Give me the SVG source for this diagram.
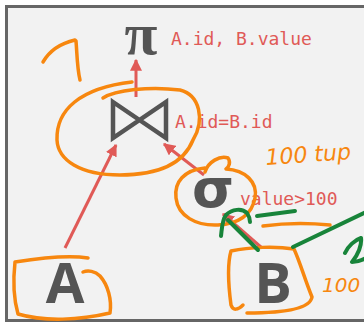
<svg xmlns="http://www.w3.org/2000/svg" width="364" height="323" viewBox="0 0 364 323">
<defs>
<style>
.sym{fill:#555;}
.lbl{font-family:"DejaVu Sans Mono",monospace;font-size:18px;fill:#e05a57;}
.arr{stroke:#e05a57;stroke-width:3;fill:none;}
.ink-o{stroke:#f7870f;stroke-width:3.5;fill:none;stroke-linecap:round;stroke-linejoin:round;}
.ink-g{stroke:#18843a;stroke-width:4;fill:none;stroke-linecap:round;stroke-linejoin:round;}
.hand{font-family:"DejaVu Sans",sans-serif;font-style:italic;fill:#f7870f;}
</style>
<marker id="ah" viewBox="0 0 10 10" refX="9" refY="5" markerWidth="4" markerHeight="4" orient="auto" markerUnits="strokeWidth">
<path d="M0,0 L10,5 L0,10 Z" fill="#e05a57"/>
</marker>
</defs>
<rect x="0" y="0" width="364" height="323" fill="#ffffff"/>
<rect x="6.5" y="6.5" width="370" height="314" fill="#f2f2f2" stroke="#666" stroke-width="3"/>

<g id="connectors">
<line class="arr" x1="136" y1="97" x2="136" y2="60" marker-end="url(#ah)"/>
<line class="arr" x1="65" y1="248" x2="116" y2="145" marker-end="url(#ah)"/>
<line class="arr" x1="204" y1="175" x2="164" y2="144" marker-end="url(#ah)"/>
<line class="arr" x1="262" y1="248" x2="223" y2="214" marker-end="url(#ah)"/>
</g>

<g id="project">
<text x="141" y="54" text-anchor="middle" class="sym" font-family="Liberation Serif,serif" font-weight="bold" font-size="60">π</text>
<text x="171" y="45" class="lbl">A.id, B.value</text>
</g>
<g id="join">
<path d="M113,102 L166,138 L166,102 L113,138 Z" fill="none" stroke="#555" stroke-width="4.5" stroke-linejoin="miter"/>
<text x="175" y="128" class="lbl">A.id=B.id</text>
</g>
<g id="select">
<text x="213" y="207" text-anchor="middle" class="sym" font-family="DejaVu Sans,sans-serif" font-weight="bold" font-size="54">σ</text>
<text x="240" y="205" class="lbl">value&gt;100</text>
</g>
<g id="A">
<text x="65" y="303" text-anchor="middle" class="sym" font-family="Open Sans,sans-serif" font-weight="bold" font-size="56">A</text>
</g>
<g id="B">
<text x="273" y="303" text-anchor="middle" class="sym" font-family="Open Sans,sans-serif" font-weight="bold" font-size="56">B</text>
</g>

<g id="annotations">
<path class="ink-o" d="M43,62 C50,50 62,43 75,40 L76,41 C77,52 77,68 80,80"/>
<path class="ink-o" d="M103,98 C115,90 150,86 180,90 C200,95 205,120 193,140 C185,160 165,175 120,175 C80,175 58,160 57,140 C56,110 80,88 132,82"/>
<path class="ink-o" d="M205,172 C208,162 220,155 228,158 C231,162 229,167 226,169 C245,170 258,182 255,198 C252,215 238,224 218,225 C196,226 178,216 176,198 C174,182 184,170 205,168"/>
<path class="ink-o" d="M88,258 C70,255 40,258 15,262 C13,280 14,300 18,314 C45,322 80,320 110,313 C112,300 108,285 100,276 C95,271 88,270 83,272"/>
<path class="ink-o" d="M243,305 C238,310 233,311 231,305 C229,290 227,265 231,251 C250,247 275,246 294,249 C300,262 305,280 312,297 C310,310 280,313 247,313"/>
<path class="ink-o" d="M263,226 C285,223 310,223 330,225"/>
<text x="266" y="165" class="hand" font-size="22" transform="rotate(-4 266 165)">100 tup</text>
<text x="322" y="292" class="hand" font-size="20">100</text>
<path class="ink-g" d="M258,250 L228,220"/>
<path class="ink-g" d="M221,236 C222,228 222,220 226,215 C232,209 242,208 247,213 C249,216 250,220 250,222"/>
<path class="ink-g" d="M257,216 L295,211"/>
<path class="ink-g" d="M293,247 L366,212"/>
<path class="ink-g" d="M345,253 C348,246 355,240 361,238 C362,245 358,255 352,262 C356,262 362,260 366,258"/>
</g>
</svg>
